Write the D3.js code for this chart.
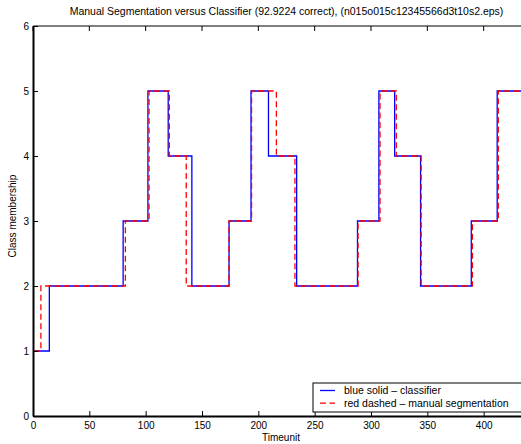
<!DOCTYPE html>
<html>
<head>
<meta charset="utf-8">
<script src="https://cdn.jsdelivr.net/npm/d3@7"></script>
<style>
  body { margin: 0; background: #fff; }
  svg { display: block; font-family: "Liberation Sans", Arial, sans-serif; }
</style>
</head>
<body>
<div id="chart"></div>
<script>
"use strict";

// step change points: time where the class starts, and the class from there on
var classifierTime = [1, 14.5, 80, 102, 120, 141, 174, 193.5, 209, 234, 288, 307, 321, 344, 389, 412, 450];
var classifierClass = [1, 2, 3, 5, 4, 2, 3, 5, 4, 2, 3, 5, 4, 2, 3, 5, 5];

var manualTime = [1, 7, 82, 103, 121, 136, 174, 194, 216, 232.5, 288.5, 308, 322.5, 344.5, 390, 413, 450];
var manualClass = [1, 2, 3, 5, 4, 2, 3, 5, 4, 2, 3, 5, 4, 2, 3, 5, 5];

var xTicks = [0, 50, 100, 150, 200, 250, 300, 350, 400];
var yTicks = [0, 1, 2, 3, 4, 5, 6];

var legendLabels = ["blue solid \u2013 classifier", "red dashed \u2013 manual segmentation"];

var width = 521, height = 444;
var margin = { left: 33, top: 26, right: -19, bottom: 28 };

var svg = d3.select("#chart")
  .append("svg")
  .attr("width", width)
  .attr("height", height);

var x = d3.scaleLinear()
  .domain([0, 450])
  .range([margin.left, width - margin.right]);

var y = d3.scaleLinear()
  .domain([0, 6])
  .range([height - margin.bottom, margin.top]);

function series(ts, cs) {
  return ts.map(function(t, i) {
    return { t: t, c: cs[i] };
  });
}

var line = d3.line()
  .curve(d3.curveStepAfter)
  .x(function(d) { return x(d.t); })
  .y(function(d) { return y(d.c); });

// title
svg.append("text")
  .attr("x", (x(0) + x(450)) / 2)
  .attr("y", 14.5)
  .attr("text-anchor", "middle")
  .style("font-size", "10.5px")
  .text("Manual Segmentation versus Classifier (92.9224 correct), (n015o015c12345566d3t10s2.eps)");

// top border
svg.append("line")
  .attr("x1", x(0)).attr("x2", x(450))
  .attr("y1", y(6)).attr("y2", y(6))
  .attr("stroke", "#000").attr("stroke-width", 1);

// top ticks (inward)
svg.append("g")
  .selectAll("line")
  .data(xTicks)
  .enter()
  .append("line")
  .attr("x1", function(d) { return x(d); })
  .attr("x2", function(d) { return x(d); })
  .attr("y1", y(6))
  .attr("y2", y(6) + 5)
  .attr("stroke", "#000");

// data lines
var plot = svg.append("g");

plot.append("path")
  .datum(series(classifierTime, classifierClass))
  .attr("d", line)
  .attr("fill", "none")
  .attr("stroke", "#0000ff")
  .attr("stroke-width", 1.3);

plot.append("path")
  .datum(series(manualTime, manualClass))
  .attr("d", line)
  .attr("fill", "none")
  .attr("stroke", "#ff0000")
  .attr("stroke-width", 1.3)
  .attr("stroke-dasharray", "6,3.5");

// axes, ticks pointing inward
var xAxis = d3.axisBottom(x)
  .tickValues(xTicks)
  .tickFormat(d3.format("d"))
  .tickSizeInner(-5)
  .tickSizeOuter(0)
  .tickPadding(6);

var yAxis = d3.axisLeft(y)
  .tickValues(yTicks)
  .tickFormat(d3.format("d"))
  .tickSizeInner(-5)
  .tickSizeOuter(0)
  .tickPadding(4);

var gx = svg.append("g")
  .attr("transform", "translate(0," + y(0) + ")")
  .call(xAxis);

var gy = svg.append("g")
  .attr("transform", "translate(" + x(0) + ",0)")
  .call(yAxis);

[gx, gy].forEach(function(g) {
  g.select(".domain").attr("stroke-width", 2);
  g.selectAll(".tick text").style("font-size", "10px").attr("fill", "#000");
});

// axis labels
svg.append("text")
  .attr("x", 281)
  .attr("y", 441)
  .attr("text-anchor", "middle")
  .style("font-size", "10px")
  .text("Timeunit");

svg.append("text")
  .attr("transform", "translate(16,216) rotate(-90)")
  .attr("text-anchor", "middle")
  .style("font-size", "10px")
  .text("Class membership");

// legend
var legend = svg.append("g").attr("transform", "translate(313,383)");

legend.append("rect")
  .attr("x", 0).attr("y", 0)
  .attr("width", 240).attr("height", 29)
  .attr("fill", "#fff")
  .attr("stroke", "#000")
  .attr("stroke-width", 1);

var items = legend.selectAll("g.item")
  .data(legendLabels)
  .enter()
  .append("g")
  .attr("class", "item")
  .attr("transform", function(d, i) { return "translate(0," + (7.5 + i * 12.7) + ")"; });

items.append("line")
  .attr("x1", 7).attr("x2", 22)
  .attr("y1", 0).attr("y2", 0)
  .attr("stroke", function(d, i) { return i === 0 ? "#0000ff" : "#ff0000"; })
  .attr("stroke-width", 1.3)
  .attr("stroke-dasharray", function(d, i) { return i === 0 ? null : "6,3.5"; });

items.append("text")
  .attr("x", 31)
  .attr("y", 3.7)
  .style("font-size", "10.5px")
  .text(function(d) { return d; });
</script>
</body>
</html>
